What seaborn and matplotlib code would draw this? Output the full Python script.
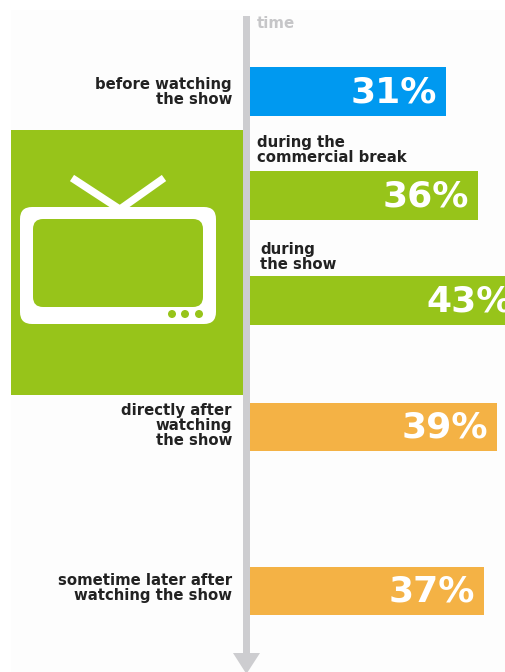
import matplotlib
matplotlib.use("Agg")
import matplotlib.pyplot as plt
from matplotlib.patches import Rectangle, FancyBboxPatch, Polygon, Circle
import numpy as np
import pandas as pd
import seaborn as sns

# Share of viewers at each moment around a TV show
moments = ["before watching\nthe show",
           "during the\ncommercial break",
           "during\nthe show",
           "directly after\nwatching\nthe show",
           "sometime later after\nwatching the show"]
shares = [31, 36, 43, 39, 37]
phases = ["before", "during", "during", "after", "after"]

phase_colors = {"before": "#0099F0", "during": "#97C41A", "after": "#F4B245"}
W, H = 506, 672
ROW_Y = [91.7, 195.3, 300.7, 427.0, 591.0]
BAR_H = 48.5
ZERO_X = 249.7
PX_PER_PCT = 6.335
# label anchors: x, vertical centre, alignment
LABEL_POS = [(232, 91.7, "right"), (257, 150, "left"), (260, 256.8, "left"),
             (232, 425.5, "right"), (232, 587.7, "right")]

sns.set_theme(style="white")
fig = plt.figure(figsize=(W / 100, H / 100), dpi=100, facecolor="white")

# Backdrop layer in pixel units: panel, television and time arrow
bg = fig.add_axes([0, 0, 1, 1])
bg.set_xlim(0, W)
bg.set_ylim(H, 0)
bg.axis("off")
bg.add_patch(Rectangle((11, 10), W - 11, H - 10, fc="#FDFDFD", ec="none"))
bg.add_patch(Rectangle((11, 130), 232, 265, fc="#97C41A", ec="none"))

# Antennas run down into the set's frame so no gap shows at their feet
for tip, foot in [((72, 178), (124, 212)), ((164, 178), (116, 212))]:
    bg.plot(*zip(tip, foot), color="white", lw=5.4, solid_capstyle="butt")
bg.add_patch(FancyBboxPatch((30, 217), 176, 97, boxstyle="round,pad=10,rounding_size=12",
                            fc="white", ec="none"))
bg.add_patch(FancyBboxPatch((43, 229), 150, 68, boxstyle="round,pad=10,rounding_size=10",
                            fc="#97C41A", ec="none"))
for cx in (172, 185, 199):
    bg.add_patch(Circle((cx, 314), 4.0, fc="#97C41A", ec="none"))

bg.add_patch(Rectangle((243, 16), 6.8, 640, fc="#CDCDD0", ec="none"))
bg.add_patch(Polygon([(233, 653), (260, 653), (246.4, 674)], fc="#CDCDD0", ec="none"))

# Bars on their own transparent axes, x in percent and y in pixel rows
ax = fig.add_axes([0, 0, 1, 1], facecolor="none")
df = pd.DataFrame({"moment": moments, "share": shares, "phase": phases, "row": ROW_Y})
sns.barplot(data=df, x="share", y="row", hue="phase", palette=phase_colors,
            orient="h", native_scale=True, dodge=False, legend=False,
            saturation=1, width=BAR_H / np.diff(ROW_Y).min(), linewidth=0, ax=ax)
ax.set_xlim(-ZERO_X / PX_PER_PCT, (W - ZERO_X) / PX_PER_PCT)
ax.set_ylim(H, 0)
ax.axis("off")

for share, row in zip(shares, ROW_Y):
    ax.annotate(f"{share}%", xy=(share, row), xytext=(-6.5, 2), textcoords="offset points",
                ha="right", va="center_baseline", color="white",
                fontsize=26, fontweight="bold", family="DejaVu Sans",
                annotation_clip=False)

for text, (x, y, align) in zip(moments, LABEL_POS):
    bg.text(x, y, text, ha=align, va="center", multialignment=align, color="#222222",
            fontsize=10.7, fontweight="bold", family="DejaVu Sans", linespacing=1.03)

bg.text(257, 24, "time", ha="left", va="center", color="#C6C6C8",
        fontsize=10.8, fontweight="bold", family="DejaVu Sans")

fig.savefig("out.png", dpi=100)
